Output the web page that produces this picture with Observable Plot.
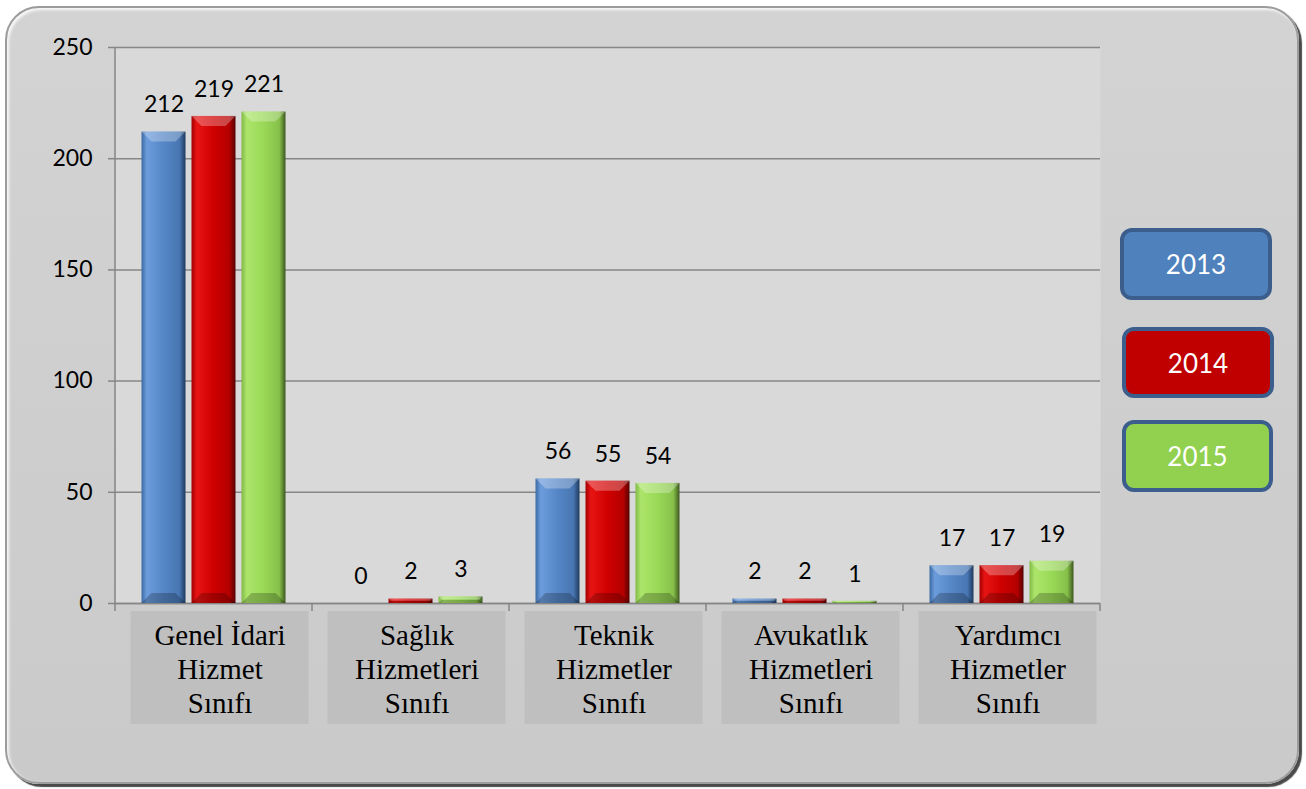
<!DOCTYPE html>
<html><head><meta charset="utf-8">
<script src="https://cdn.jsdelivr.net/npm/d3@7"></script>
<script src="https://cdn.jsdelivr.net/npm/@observablehq/plot@0.6"></script>
<style>
html,body{margin:0;padding:0;background:#fff;}
#wrap{position:relative;width:1306px;height:789px;overflow:hidden;}
#frame{position:absolute;left:5px;top:6px;width:1294px;height:778px;box-sizing:border-box;border-radius:34px;background:linear-gradient(#d3d3d3,#cacaca);border:2px solid #9c9c9c;box-shadow:inset 2px 2px 3px rgba(255,255,255,0.85),3px 3px 1px #4a4a4a;}
#chart{position:absolute;left:0;top:0;}
.leg{position:absolute;box-sizing:border-box;border:4px solid #3b5e8c;border-radius:12px;color:#fff;font-family:Lato,sans-serif;font-size:26px;display:flex;align-items:center;justify-content:center;}
</style></head>
<body>
<div id="wrap">
  <div id="frame"></div>
  <div id="chart"></div>
  <div id="legend"></div>
</div>
<script>
const categories = ["Genel İdari\nHizmet\nSınıfı", "Sağlık\nHizmetleri\nSınıfı", "Teknik\nHizmetler\nSınıfı", "Avukatlık\nHizmetleri\nSınıfı", "Yardımcı\nHizmetler\nSınıfı"];
const years = ["2013", "2014", "2015"];
const values2013 = [212, 0, 56, 2, 17];
const values2014 = [219, 2, 55, 2, 17];
const values2015 = [221, 3, 54, 1, 19];
const yTicks = [0, 50, 100, 150, 200, 250];
const yearColors = ["#4f81bd", "#c00000", "#92d050"];

const seriesValues = [values2013, values2014, values2015];
const rows = years.flatMap((yr, i) => categories.map((c, j) => ({category: c, year: yr, value: seriesValues[i][j]})));
const offsets = {"2013": -50, "2014": 0, "2015": 50};
const barHalf = 22;

const gradStops = {
  "2013": [["0", "#3b6aa3"], ["0.12", "#6c9cdb"], ["0.5", "#5586c6"], ["0.86", "#4876b2"], ["1", "#1f3a5e"]],
  "2014": [["0", "#a30000"], ["0.12", "#e81414"], ["0.5", "#cf0000"], ["0.86", "#b40000"], ["1", "#560000"]],
  "2015": [["0", "#80b946"], ["0.12", "#ace56a"], ["0.5", "#9ad957"], ["0.86", "#86c04a"], ["1", "#3d581f"]]
};

function decor(index, scales, values, dims) {
  const x = scales.x;
  const bw = x.bandwidth ? x.bandwidth() : (x(categories[1]) - x(categories[0]));
  const {marginLeft, marginTop, marginBottom, height} = dims;
  const y0 = height - marginBottom;
  const g = d3.create("svg:g");
  const defs = g.append("defs");
  for (const yr of years) {
    const lg = defs.append("linearGradient").attr("id", "grad" + yr).attr("x1", "0").attr("x2", "1").attr("y1", "0").attr("y2", "0");
    for (const [o, c] of gradStops[yr]) lg.append("stop").attr("offset", o).attr("stop-color", c);
  }
  for (const c of categories) {
    const cx = x(c) + bw / 2 + 6;
    g.append("rect").attr("x", cx - 89).attr("y", y0 + 8).attr("width", 178).attr("height", 113).attr("fill", "#bfbfbf");
  }
  g.append("line").attr("x1", marginLeft).attr("x2", marginLeft).attr("y1", marginTop).attr("y2", y0)
    .attr("stroke", "#868686").attr("stroke-width", 1.5);
  const bounds = categories.map(c => x(c)).concat([x(categories[categories.length - 1]) + bw]);
  for (const b of bounds) {
    g.append("line").attr("x1", b).attr("x2", b).attr("y1", y0).attr("y2", y0 + 8)
      .attr("stroke", "#868686").attr("stroke-width", 1.5);
  }
  return g.node();
}

// bevel highlights on top of each bar, positioned through the plot's scales
function bevel(index, scales) {
  const x = scales.x, y = scales.y;
  const bw = x.bandwidth ? x.bandwidth() : (x(categories[1]) - x(categories[0]));
  const g = d3.create("svg:g");
  for (const r of rows) {
    const cx = x(r.category) + bw / 2 + offsets[r.year];
    const yt = y(r.value), yb = y(0);
    const h = yb - yt;
    if (h < 1) continue;
    const b = Math.min(10, h / 2);
    const x0 = cx - barHalf, x1 = cx + barHalf;
    g.append("polygon").attr("points", `${x0},${yt} ${x1},${yt} ${x1 - b},${yt + b} ${x0 + b},${yt + b}`)
      .attr("fill", "#ffffff").attr("fill-opacity", 0.28);
    g.append("polygon").attr("points", `${x0},${yb} ${x1},${yb} ${x1 - b},${yb - b} ${x0 + b},${yb - b}`)
      .attr("fill", "#000000").attr("fill-opacity", 0.22);
  }
  return g.node();
}

const marks = [
  Plot.frame({fill: "#d9d9d9"}),
  Plot.gridY({ticks: yTicks, stroke: "#868686", strokeOpacity: 1, strokeWidth: 1.5}),
  decor,
  Plot.ruleY([0], {stroke: "#868686", strokeWidth: 1.5}),
  ...years.map(yr => Plot.barY(rows.filter(r => r.year === yr), {
    x: "category", y: "value", fill: `url(#grad${yr})`,
    insetLeft: 76.5, insetRight: 76.5, dx: offsets[yr]
  })),
  bevel,
  ...years.map(yr => Plot.text(rows.filter(r => r.year === yr), {
    x: "category", y: "value", text: d => String(d.value), dx: offsets[yr], dy: -27,
    fontSize: 23, fontFamily: "Lato", fill: "black"
  })),
  Plot.axisX({tickSize: 0, tickPadding: 18, fontSize: 29, fontFamily: "Liberation Serif", lineHeight: 1.16, dx: 6, color: "black", label: null}),
  Plot.axisY({ticks: yTicks, tickSize: 7, tickFormat: () => "", stroke: "#868686", strokeWidth: 1.5, label: null}),
  Plot.axisY({ticks: yTicks, tickSize: 0, tickPadding: 23, fontSize: 23, fontFamily: "Lato", color: "black", label: null})
];

const chart = Plot.plot({
  width: 1306, height: 789,
  marginLeft: 115, marginRight: 206, marginTop: 47, marginBottom: 186,
  style: {background: "transparent", overflow: "visible"},
  x: {type: "band", domain: categories, padding: 0, label: null},
  y: {domain: [0, 250], label: null},
  marks
});
document.getElementById("chart").appendChild(chart);

const legendPos = [
  {left: 1120, top: 228, width: 152, height: 72},
  {left: 1122, top: 327, width: 152, height: 71},
  {left: 1122, top: 420, width: 151, height: 72}
];
const legend = document.getElementById("legend");
years.forEach((yr, i) => {
  const d = document.createElement("div");
  d.className = "leg";
  const p = legendPos[i];
  Object.assign(d.style, {left: p.left + "px", top: p.top + "px", width: p.width + "px", height: p.height + "px", background: yearColors[i]});
  d.textContent = yr;
  legend.appendChild(d);
});
</script>
</body></html>
